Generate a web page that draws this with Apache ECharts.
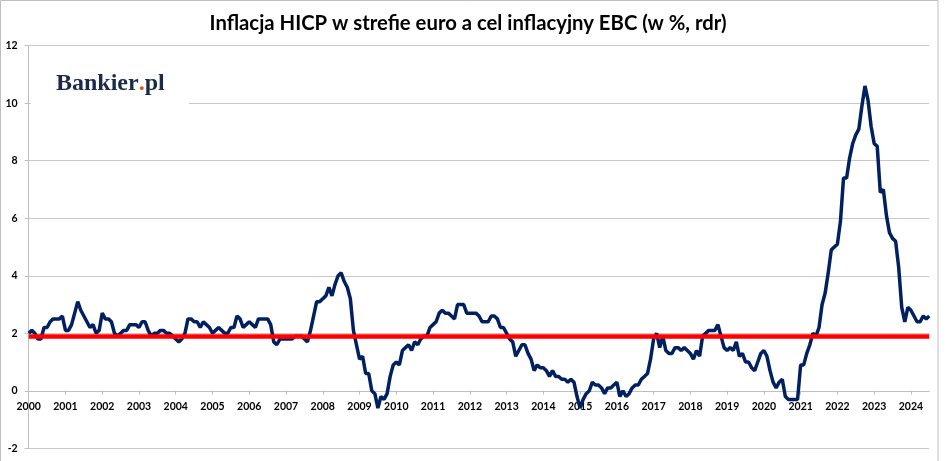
<!DOCTYPE html>
<html><head><meta charset="utf-8">
<script src="https://cdn.jsdelivr.net/npm/echarts@6/dist/echarts.min.js"></script>
<style>html,body{margin:0;padding:0;background:#fff}#c{width:948px;height:461px}</style>
</head><body><div id="c"></div>
<script>
const TITLE = 'Inflacja HICP w strefie euro a cel inflacyjny EBC (w %, rdr)';
const YEARS = [2000,2001,2002,2003,2004,2005,2006,2007,2008,2009,2010,2011,2012,2013,2014,2015,2016,2017,2018,2019,2020,2021,2022,2023,2024];
const Y_TICKS = [-2, 0, 2, 4, 6, 8, 10, 12];
const TARGET = 1.9; // cel inflacyjny EBC (czerwona linia)

const hicp2000 = [2.0, 2.1, 2.0, 1.8, 1.8, 2.2, 2.2, 2.4, 2.5, 2.5, 2.5, 2.6];
const hicp2001 = [2.1, 2.1, 2.3, 2.7, 3.1, 2.8, 2.6, 2.4, 2.2, 2.3, 2.0, 2.1];
const hicp2002 = [2.7, 2.5, 2.5, 2.4, 2.0, 1.9, 2.0, 2.1, 2.1, 2.3, 2.3, 2.3];
const hicp2003 = [2.2, 2.4, 2.4, 2.1, 1.9, 2.0, 2.0, 2.1, 2.1, 2.0, 2.0, 1.9];
const hicp2004 = [1.8, 1.7, 1.8, 2.0, 2.5, 2.5, 2.4, 2.4, 2.2, 2.4, 2.3, 2.2];
const hicp2005 = [2.0, 2.1, 2.2, 2.1, 2.0, 2.0, 2.2, 2.2, 2.6, 2.5, 2.2, 2.3];
const hicp2006 = [2.4, 2.3, 2.2, 2.5, 2.5, 2.5, 2.5, 2.3, 1.7, 1.6, 1.8, 1.8];
const hicp2007 = [1.8, 1.8, 1.8, 1.9, 1.9, 1.9, 1.8, 1.7, 2.1, 2.6, 3.1, 3.1];
const hicp2008 = [3.2, 3.3, 3.6, 3.3, 3.7, 4.0, 4.1, 3.8, 3.6, 3.2, 2.1, 1.6];
const hicp2009 = [1.1, 1.2, 0.6, 0.6, 0.0, -0.1, -0.6, -0.2, -0.3, -0.1, 0.5, 0.9];
const hicp2010 = [1.0, 0.9, 1.4, 1.5, 1.6, 1.4, 1.7, 1.6, 1.8, 1.9, 1.9, 2.2];
const hicp2011 = [2.3, 2.4, 2.7, 2.8, 2.7, 2.7, 2.6, 2.5, 3.0, 3.0, 3.0, 2.7];
const hicp2012 = [2.7, 2.7, 2.7, 2.6, 2.4, 2.4, 2.4, 2.6, 2.6, 2.5, 2.2, 2.2];
const hicp2013 = [2.0, 1.8, 1.7, 1.2, 1.4, 1.6, 1.6, 1.3, 1.1, 0.7, 0.9, 0.8];
const hicp2014 = [0.8, 0.7, 0.5, 0.7, 0.5, 0.5, 0.4, 0.4, 0.3, 0.4, 0.3, -0.2];
const hicp2015 = [-0.6, -0.3, -0.1, 0.0, 0.3, 0.2, 0.2, 0.1, -0.1, 0.1, 0.1, 0.2];
const hicp2016 = [0.3, -0.2, 0.0, -0.2, -0.1, 0.1, 0.2, 0.2, 0.4, 0.5, 0.6, 1.1];
const hicp2017 = [1.8, 2.0, 1.5, 1.9, 1.4, 1.3, 1.3, 1.5, 1.5, 1.4, 1.5, 1.4];
const hicp2018 = [1.3, 1.1, 1.4, 1.2, 1.9, 2.0, 2.1, 2.1, 2.1, 2.3, 1.9, 1.5];
const hicp2019 = [1.4, 1.5, 1.4, 1.7, 1.2, 1.3, 1.0, 1.0, 0.8, 0.7, 1.0, 1.3];
const hicp2020 = [1.4, 1.2, 0.7, 0.3, 0.1, 0.3, 0.4, -0.2, -0.3, -0.3, -0.3, -0.3];
const hicp2021 = [0.9, 0.9, 1.3, 1.6, 2.0, 1.9, 2.2, 3.0, 3.4, 4.1, 4.9, 5.0];
const hicp2022 = [5.1, 5.9, 7.4, 7.4, 8.1, 8.6, 8.9, 9.1, 9.9, 10.6, 10.1, 9.2];
const hicp2023 = [8.6, 8.5, 6.9, 7.0, 6.1, 5.5, 5.3, 5.2, 4.3, 2.9, 2.4, 2.9];
const hicp2024 = [2.8, 2.6, 2.4, 2.4, 2.6, 2.5, 2.6];

const BY_YEAR = [hicp2000,hicp2001,hicp2002,hicp2003,hicp2004,hicp2005,hicp2006,hicp2007,hicp2008,hicp2009,hicp2010,hicp2011,hicp2012,hicp2013,hicp2014,hicp2015,hicp2016,hicp2017,hicp2018,hicp2019,hicp2020,hicp2021,hicp2022,hicp2023,hicp2024];

const MONTHS = [];
const VALUES = [];
BY_YEAR.forEach((arr, yi) => {
  arr.forEach((v, mi) => {
    MONTHS.push(YEARS[yi] + '-' + String(mi + 1).padStart(2, '0'));
    VALUES.push(v);
  });
});

const FONT = 'Lato';
const GRID_TOP = 45.7, GRID_BOTTOM = 12.7, CHART_H = 461;
const plotH = CHART_H - GRID_TOP - GRID_BOTTOM;
// distance of value 0 above the bottom of the plot (axis crosses y at 0)
const zeroOffset = plotH * (0 - Y_TICKS[0]) / (Y_TICKS[Y_TICKS.length - 1] - Y_TICKS[0]);

const chart = echarts.init(document.getElementById('c'), null, {renderer: 'canvas'});
chart.setOption({
  animation: false,
  backgroundColor: '#ffffff',
  title: {
    text: TITLE, left: 463, top: 8, textAlign: 'center',
    textStyle: {fontFamily: FONT, fontWeight: 'bold', fontSize: 20.3, color: '#000000'}
  },
  grid: {left: 28.7, right: 18.7, top: GRID_TOP, bottom: GRID_BOTTOM, containLabel: false, outerBoundsMode: 'none'},
  xAxis: {
    type: 'category', data: MONTHS, boundaryGap: false, position: 'bottom', offset: -zeroOffset,
    axisLine: {onZero: false, lineStyle: {color: '#bfbfbf', width: 1}},
    axisTick: {show: true, interval: (i) => i % 12 === 0, length: 4, lineStyle: {color: '#bfbfbf'}},
    axisLabel: {
      interval: (i) => i % 12 === 0, formatter: (v) => v.slice(0, 4), margin: 10,
      fontFamily: FONT, fontWeight: 'bold', fontSize: 10.5, color: '#000000'
    },
    splitLine: {show: false}
  },
  yAxis: {
    type: 'value', min: Y_TICKS[0], max: Y_TICKS[Y_TICKS.length - 1], interval: 2,
    axisLine: {show: true, lineStyle: {color: '#bfbfbf'}},
    axisTick: {show: true, length: 4, lineStyle: {color: '#bfbfbf'}},
    axisLabel: {margin: 11, fontFamily: FONT, fontWeight: 'bold', fontSize: 10.5, color: '#000000'},
    splitLine: {lineStyle: {color: '#c8c8c8', width: 1}}
  },
  series: [
    {
      name: 'Cel EBC', type: 'line', data: [], z: 2, silent: true,
      markLine: {
        silent: true, symbol: ['none', 'none'], label: {show: false},
        lineStyle: {color: '#ff0000', width: 4.5, type: 'solid'},
        data: [{yAxis: TARGET}]
      }
    },
    {
      name: 'HICP', type: 'line', data: VALUES, z: 3, showSymbol: false, symbol: 'none',
      lineStyle: {color: '#002060', width: 3.5}, itemStyle: {color: '#002060'}
    }
  ],
  graphic: [
    {type: 'rect', z: 100, shape: {x: 0.5, y: 0.5, width: 937.5, height: 470},
     style: {fill: 'none', stroke: '#bfbfbf', lineWidth: 1}},
    {type: 'rect', z: 100, shape: {x: 31, y: 55, width: 158, height: 52},
     style: {fill: '#ffffff'}},
    {type: 'text', z: 101, x: 56, y: 72,
     style: {
       text: '{a|Bankier}{b|.}{a|pl}',
       rich: {
         a: {fontFamily: 'Liberation Serif', fontWeight: 'bold', fontSize: 24, fill: '#1b2a4a', color: '#1b2a4a'},
         b: {fontFamily: 'Liberation Serif', fontWeight: 'bold', fontSize: 24, fill: '#e8541e', color: '#e8541e'}
       }
     }}
  ]
});
</script>
</body></html>
